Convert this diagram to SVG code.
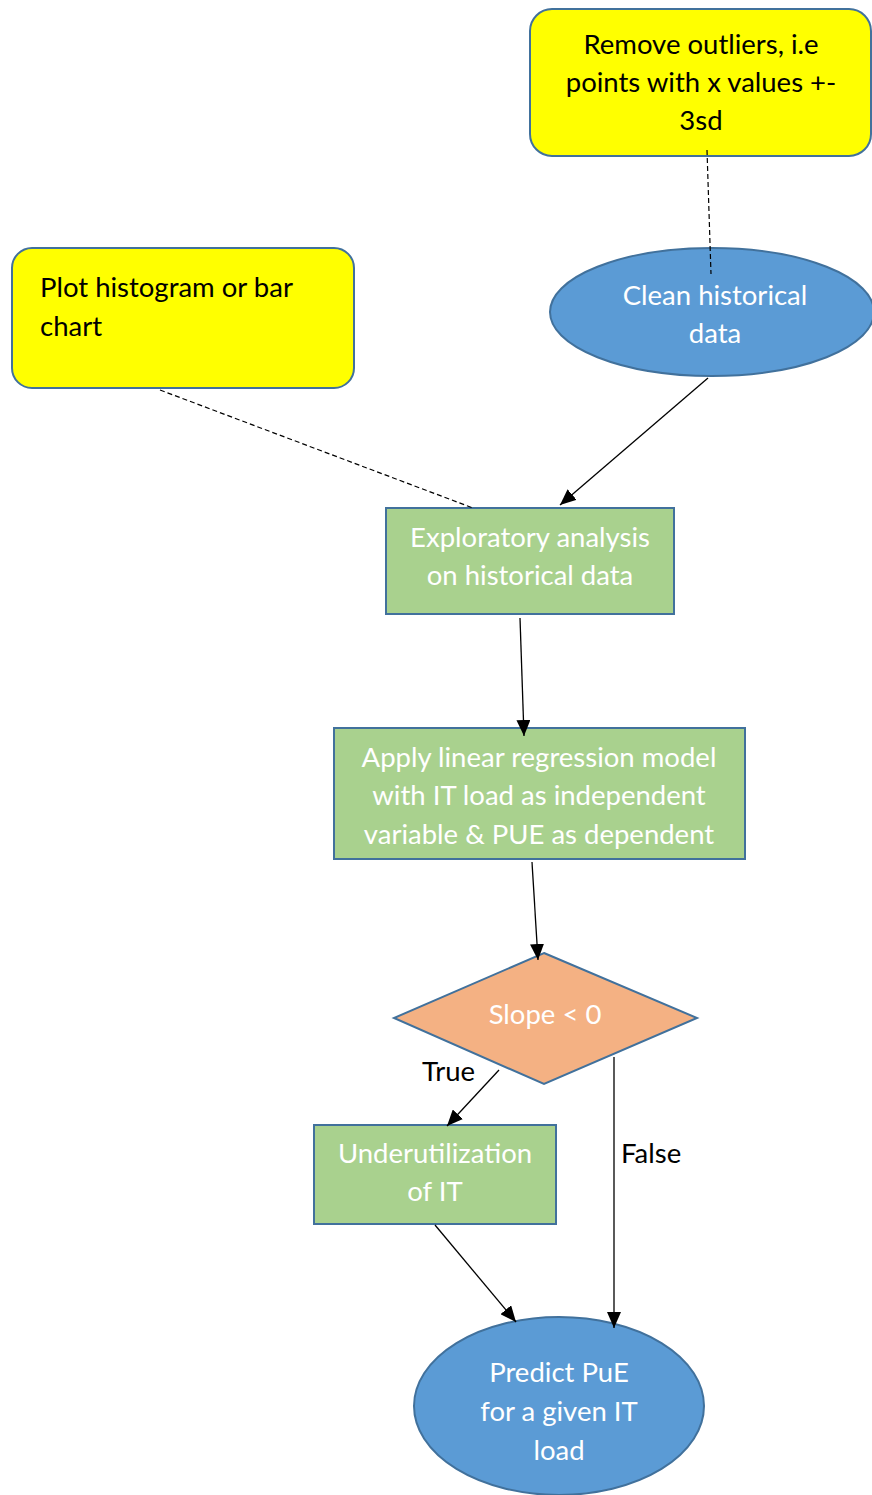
<svg xmlns="http://www.w3.org/2000/svg" width="872" height="1495" viewBox="0 0 872 1495">
<style>
text{font-family:Lato,"Open Sans","Liberation Sans",sans-serif;font-size:27.5px}
.w{fill:#ffffff}
.b{fill:#000000}
.c{text-anchor:middle}
.note{fill:#ffff00;stroke:#41719c;stroke-width:2}
.blue{fill:#5b9bd5;stroke:#41719c;stroke-width:2}
.green{fill:#a9d18e;stroke:#41719c;stroke-width:2}
.orange{fill:#f4b183;stroke:#41719c;stroke-width:2}
.ln{stroke:#000;stroke-width:1.3;fill:none}
.dash{stroke:#000;stroke-width:1.2;fill:none;stroke-dasharray:5 3}
</style>
<defs>
<marker id="ah" markerUnits="userSpaceOnUse" markerWidth="18" markerHeight="14" refX="16" refY="7" orient="auto">
<path d="M0,0 L16,7 L0,14 Z" fill="#000"/>
</marker>
</defs>
<rect width="872" height="1495" fill="#fff"/>
<g id="n_outliers">
<rect class="note" x="530" y="9" width="341" height="147" rx="22"/>
<text class="b c" x="701" y="54">Remove outliers, i.e</text>
<text class="b c" x="701" y="92">points with x values +-</text>
<text class="b c" x="701" y="130">3sd</text>
</g>
<g id="n_clean">
<ellipse class="blue" cx="712" cy="312" rx="162" ry="64"/>
<text class="w c" x="715" y="305">Clean historical</text>
<text class="w c" x="715" y="343">data</text>
</g>
<g id="n_plot">
<rect class="note" x="12" y="248" width="342" height="140" rx="20"/>
<text class="b" x="40" y="297">Plot histogram or bar</text>
<text class="b" x="40" y="336">chart</text>
</g>
<g id="n_explore">
<rect class="green" x="386" y="508" width="288" height="106"/>
<text class="w c" x="530" y="547">Exploratory analysis</text>
<text class="w c" x="530" y="585">on historical data</text>
</g>
<g id="n_regress">
<rect class="green" x="334" y="728" width="411" height="131"/>
<text class="w c" x="539" y="767">Apply linear regression model</text>
<text class="w c" x="539" y="805">with IT load as independent</text>
<text class="w c" x="539" y="844">variable &amp; PUE as dependent</text>
</g>
<g id="n_slope">
<polygon class="orange" points="544,953 697,1018 544,1084 394,1018"/>
<text class="w c" x="545" y="1024">Slope &lt; 0</text>
</g>
<g id="n_under">
<rect class="green" x="314" y="1125" width="242" height="99"/>
<text class="w c" x="435" y="1163">Underutilization</text>
<text class="w c" x="435" y="1201">of IT</text>
</g>
<g id="n_predict">
<ellipse class="blue" cx="559" cy="1406" rx="145" ry="89"/>
<text class="w c" x="559" y="1382">Predict PuE</text>
<text class="w c" x="559" y="1421">for a given IT</text>
<text class="w c" x="559" y="1460">load</text>
</g>
<g id="connectors">
<line class="dash" x1="707" y1="150" x2="711" y2="274"/>
<line class="dash" x1="160" y1="390" x2="473" y2="508"/>
<line class="ln" x1="708" y1="378" x2="560" y2="505" marker-end="url(#ah)"/>
<line class="ln" x1="520" y1="618" x2="524" y2="736" marker-end="url(#ah)"/>
<line class="ln" x1="532" y1="862" x2="538" y2="960" marker-end="url(#ah)"/>
<line class="ln" x1="499" y1="1070" x2="447" y2="1126" marker-end="url(#ah)"/>
<line class="ln" x1="614" y1="1057" x2="614" y2="1328" marker-end="url(#ah)"/>
<line class="ln" x1="435" y1="1225" x2="516" y2="1322" marker-end="url(#ah)"/>
<text class="b" x="422" y="1081">True</text>
<text class="b" x="621" y="1163">False</text>
</g>
</svg>
